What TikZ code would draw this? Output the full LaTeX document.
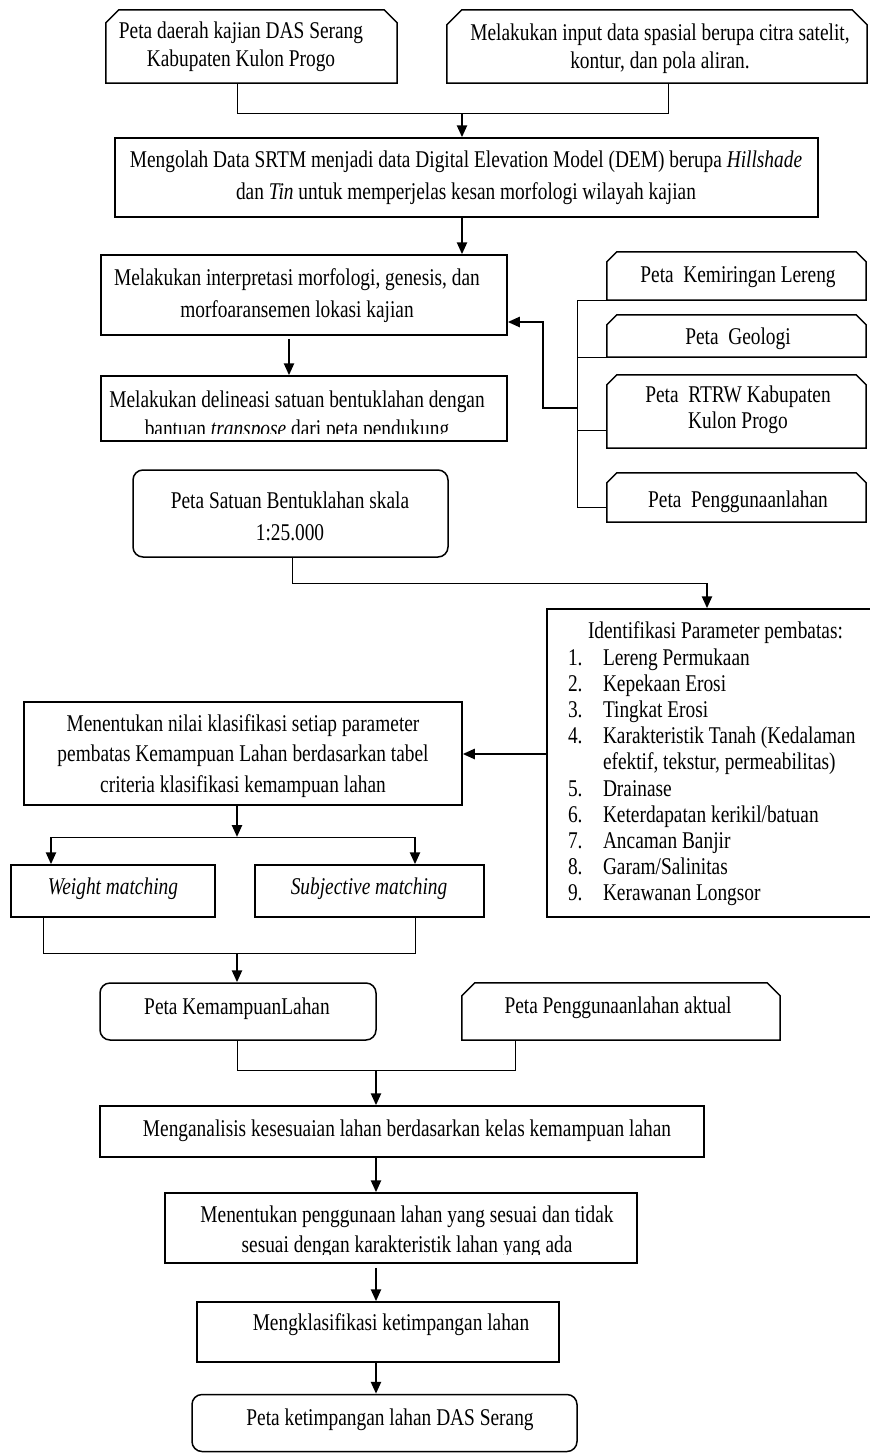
\documentclass[tikz,border=0pt]{standalone}
\usepackage{fontspec}
\setmainfont{Liberation Serif}[FakeStretch=0.807]
\usetikzlibrary{arrows.meta}
\newcommand\snipoutline[2]{\draw[bline] (#1.south west) -- ([yshift=-#2pt]#1.north west) -- ([xshift=#2pt]#1.north west) -- ([xshift=-#2pt]#1.north east) -- ([yshift=-#2pt]#1.north east) -- (#1.south east) -- cycle;}
\begin{document}
\begin{tikzpicture}[x=1pt,y=-1pt,
  bline/.style={line width=1.5pt},
  bx/.style={draw,line width=1.5pt,rectangle,inner sep=0pt},
  rbx/.style={bx,rounded corners=10pt},
  sbx/.style={rectangle,inner sep=0pt},
  txt/.style={inner sep=0pt,align=center,font=\fontsize{24}{#1}\selectfont},
  txt/.default=26,
  conn/.style={line width=1pt},
  arr/.style={line width=2.4pt,-{Triangle[width=10pt,length=12pt]}}]
\clip (0,0) rectangle (870,1454);
\fill[white] (0,0) rectangle (870,1454);
% top boxes
\node[sbx,minimum width=291pt,minimum height=73pt] (A) at (251.5,46.5) {};
\snipoutline{A}{13}
\node[txt=28] (tA) at (241,47) {Peta daerah kajian DAS Serang\\Kabupaten Kulon Progo};
\node[sbx,minimum width=420pt,minimum height=73pt] (B) at (657,46.5) {};
\snipoutline{B}{15}
\node[txt=28] (tB) at (660,49) {Melakukan input data spasial berupa citra satelit,\\kontur, dan pola aliran.};
\node[bx,minimum width=703pt,minimum height=79pt] (S) at (466.5,177.5) {};
\node[txt=32] (tS) at (466,178) {Mengolah Data SRTM menjadi data Digital Elevation Model (DEM) berupa \textit{Hillshade}\\dan \textit{Tin} untuk memperjelas kesan morfologi wilayah kajian};
\coordinate (aD) at ([xshift=-14.5pt]A.south);
\coordinate (bD) at ([xshift=11pt]B.south);
\coordinate (jAB) at (462,113);
\draw[conn] (aD) |- (bD |- jAB) -- (bD);
\draw[arr] (jAB) -- (jAB |- S.north);
% C and D
\node[bx,minimum width=406pt,minimum height=80pt] (C) at (304,295) {};
\node[txt=32] (tC) at (297,296) {Melakukan interpretasi morfologi, genesis, dan\\morfoaransemen lokasi kajian};
\draw[arr] (S.south -| jAB) -- (C.north -| jAB);
\node[bx,minimum width=406pt,minimum height=65pt] (D) at (304,408.5) {};
\begin{scope}
\clip (D.north west) rectangle ([yshift=8pt]D.south east);
\node[txt=29] (tD) at (297,416) {Melakukan delineasi satuan bentuklahan dengan\\bantuan \textit{transpose} dari peta pendukung};
\end{scope}
\coordinate (cD) at ([xshift=-15pt,yshift=-3pt]C.south);
\draw[arr] (cD) -- (cD |- D.north);
% right side maps
\node[sbx,minimum width=259pt,minimum height=48pt] (E1) at (736.5,276) {};
\snipoutline{E1}{10}
\node[txt] (tE1) at (738,277) {Peta\ \ Kemiringan Lereng};
\node[sbx,minimum width=259pt,minimum height=42pt] (E2) at (736.5,336) {};
\snipoutline{E2}{10}
\begin{scope}
\clip (E2.north west) rectangle ([yshift=8pt]E2.south east);
\node[txt] (tE2) at (738,339) {Peta\ \ Geologi};
\end{scope}
\node[sbx,minimum width=259pt,minimum height=73pt] (E3) at (736.5,411.5) {};
\snipoutline{E3}{10}
\node[txt] (tE3) at (738,410) {Peta\ \ RTRW Kabupaten\\Kulon Progo};
\node[sbx,minimum width=259pt,minimum height=49pt] (E4) at (736.5,497.5) {};
\snipoutline{E4}{10}
\node[txt] (tE4) at (738,502) {Peta\ \ Penggunaanlahan};
\coordinate (bx) at (577,408);
\coordinate (e4s) at ([yshift=-10pt]E4.west);
\coordinate (e3s) at ([yshift=-18.5pt]E3.west);
\draw[conn] (E1.south west) -| (e4s -| bx) -- (e4s);
\draw[conn] (E2.south west) -- (E2.south west -| bx);
\draw[conn] (e3s) -- (e3s -| bx);
\coordinate (kC) at (543,322);
\draw[arr] (bx) -| (kC) -- (kC -| C.east);
% F
\node[rbx,minimum width=315pt,minimum height=87pt] (F) at (290.5,513.5) {};
\node[txt=32] (tF) at (290,516) {Peta Satuan Bentuklahan skala\\1:25.000};
% G
\node[bx,minimum width=343pt,minimum height=308pt] (G) at (718.5,763) {};
\node[inner sep=0pt,align=flush left,text width=310pt,font=\fontsize{24}{26.2}\selectfont] (tG) at (723,764) {%
\hspace*{20pt}Identifikasi Parameter pembatas:\\
\makebox[35pt][l]{1.}Lereng Permukaan\\
\makebox[35pt][l]{2.}Kepekaan Erosi\\
\makebox[35pt][l]{3.}Tingkat Erosi\\
\makebox[35pt][l]{4.}Karakteristik Tanah (Kedalaman\\
\hspace*{35pt}efektif, tekstur, permeabilitas)\\
\makebox[35pt][l]{5.}Drainase\\
\makebox[35pt][l]{6.}Keterdapatan kerikil/batuan\\
\makebox[35pt][l]{7.}Ancaman Banjir\\
\makebox[35pt][l]{8.}Garam/Salinitas\\
\makebox[35pt][l]{9.}Kerawanan Longsor};
\coordinate (fD) at ([xshift=1.5pt]F.south);
\coordinate (jFG) at (707,583);
\draw[conn] (fD) |- (jFG);
\draw[arr] (jFG) -- (jFG |- G.north);
% H
\node[bx,minimum width=438pt,minimum height=103pt] (H) at (243,753.5) {};
\node[txt=30.5] (tH) at (243,756) {Menentukan nilai klasifikasi setiap parameter\\pembatas Kemampuan Lahan berdasarkan tabel\\criteria klasifikasi kemampuan lahan};
\coordinate (gh) at ([yshift=9pt]G.west);
\draw[arr] (gh) -- (gh -| H.east);
% matching
\node[bx,minimum width=204pt,minimum height=52pt] (W) at (113,891) {};
\node[txt] (tW) at (113,889) {\textit{Weight matching}};
\node[bx,minimum width=229pt,minimum height=52pt] (SM) at (369.5,891) {};
\node[txt] (tSM) at (369,889) {\textit{Subjective matching}};
\coordinate (hD) at ([xshift=-6pt]H.south);
\coordinate (jH) at (237,837);
\draw[arr] (hD) -- (jH);
\coordinate (wT) at ([xshift=-62pt]W.north);
\coordinate (sT) at ([xshift=45.5pt]SM.north);
\draw[conn] (wT |- jH) -- (sT |- jH);
\draw[arr] (wT |- jH) -- (wT);
\draw[arr] (sT |- jH) -- (sT);
\coordinate (wB) at ([xshift=-70pt]W.south);
\coordinate (sB) at ([xshift=45.5pt]SM.south);
\coordinate (jW) at (237,953);
\draw[conn] (wB) |- (sB |- jW) -- (sB);
% KL and PPA
\node[rbx,minimum width=276pt,minimum height=57pt] (KL) at (238,1011.5) {};
\node[txt] (tKL) at (237,1009) {Peta KemampuanLahan};
\draw[arr] (jW) -- (jW |- KL.north);
\node[sbx,minimum width=318pt,minimum height=57pt] (PPA) at (621,1011.5) {};
\snipoutline{PPA}{13}
\node[txt] (tPPA) at (618,1008) {Peta Penggunaanlahan aktual};
\coordinate (klD) at ([xshift=-1pt]KL.south);
\coordinate (ppD) at ([xshift=-106pt]PPA.south);
\coordinate (jK) at (376,1070);
\draw[conn] (klD) |- (ppD |- jK) -- (ppD);
% bottom chain
\node[bx,minimum width=604pt,minimum height=51pt] (I) at (402,1131.5) {};
\node[txt] (tI) at (407,1131) {Menganalisis kesesuaian lahan berdasarkan kelas kemampuan lahan};
\draw[arr] (jK) -- (jK |- I.north);
\node[bx,minimum width=472pt,minimum height=70pt] (J) at (401,1228) {};
\begin{scope}
\clip (J.north west) rectangle ([yshift=9pt]J.south east);
\node[txt=30] (tJ) at (407,1232) {Menentukan penggunaan lahan yang sesuai dan tidak\\sesuai dengan karakteristik lahan yang ada};
\end{scope}
\draw[arr] (I.south -| jK) -- (J.north -| jK);
\node[bx,minimum width=362pt,minimum height=60pt] (K) at (378,1332) {};
\node[txt] (tK) at (391,1325) {Mengklasifikasi ketimpangan lahan};
\coordinate (jJ) at ([yshift=-4pt]J.south);
\draw[arr] (jJ -| jK) -- (K.north -| jK);
\node[rbx,minimum width=385pt,minimum height=57pt] (L) at (384.5,1423) {};
\node[txt] (tL) at (390,1420) {Peta ketimpangan lahan DAS Serang};
\draw[arr] (K.south -| jK) -- (L.north -| jK);
\end{tikzpicture}
\end{document}
